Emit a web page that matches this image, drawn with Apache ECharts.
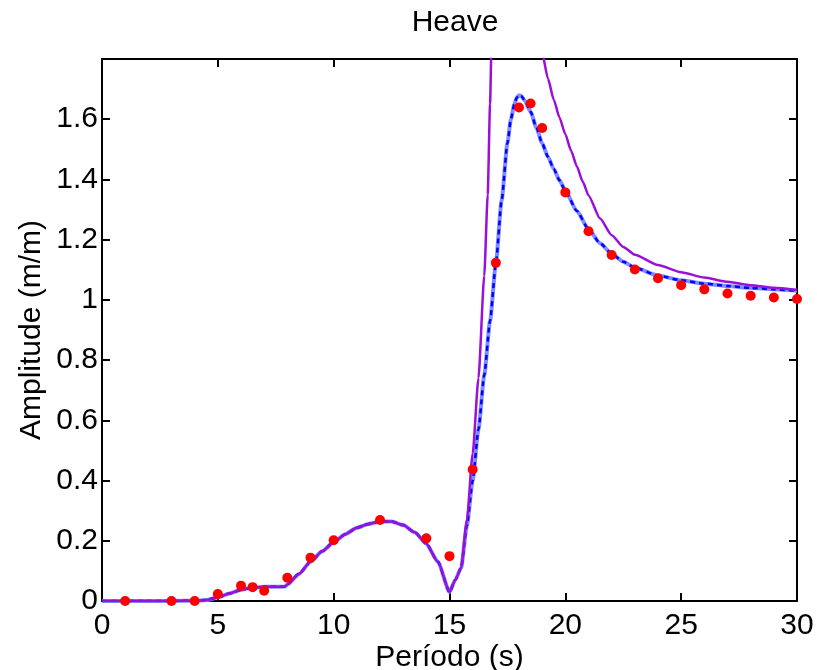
<!DOCTYPE html>
<html>
<head>
<meta charset="utf-8">
<script src="https://cdn.jsdelivr.net/npm/echarts@6/dist/echarts.min.js"></script>
<style>
html,body{margin:0;padding:0;background:#fff;}
#chart{width:817px;height:670px;}
</style>
</head>
<body>
<div id="chart"></div>
<script>
// Experimental points (red dots)
var expX = [1,3,4,5,6,6.5,7,8,9,10,12,14,15,16,17,18,18.5,19,20,21,22,23,24,25,26,27,28,29,30];
var expY = [0,0,0,0.023,0.051,0.046,0.034,0.077,0.144,0.202,0.269,0.208,0.149,0.437,1.123,1.639,1.652,1.571,1.357,1.228,1.149,1.101,1.072,1.049,1.035,1.021,1.014,1.008,1.003];

// Blue model curve
var blueX = [0,1,2,3,4,4.5,5,5.5,6,6.5,7,7.5,7.9,8,8.5,9,9.5,10,10.5,11,11.5,12,12.5,13,13.5,14,14.5,15,15.25,15.5,15.75,16,16.25,16.5,16.75,17,17.25,17.5,17.65,17.8,17.9,18,18.1,18.25,18.5,18.75,19,19.25,19.5,19.75,20,20.5,21,21.5,22,22.5,23,24,25,26,27,28,29,30];
var blueY = [0,0,0,0,0.001,0.003,0.012,0.025,0.037,0.045,0.047,0.047,0.048,0.055,0.09,0.13,0.165,0.195,0.222,0.243,0.256,0.264,0.264,0.252,0.228,0.19,0.13,0.03,0.07,0.11,0.25,0.40,0.57,0.75,0.93,1.12,1.33,1.52,1.60,1.65,1.671,1.68,1.677,1.662,1.625,1.572,1.52,1.475,1.435,1.397,1.362,1.295,1.235,1.188,1.153,1.127,1.107,1.081,1.065,1.054,1.046,1.04,1.035,1.03];

// Purple model curve
var purpleX = [0,1,2,3,4,4.5,5,5.5,6,6.5,7,7.5,7.9,8,8.5,9,9.5,10,10.5,11,11.5,12,12.5,13,13.5,14,14.5,15,15.25,15.5,15.75,16,16.25,16.5,16.65,16.75,16.85,17,17.5,18,18.5,18.8,19,19.25,19.5,19.75,20,20.25,20.5,20.75,21,21.5,22,22.5,23,24,25,26,27,28,29,30];
var purpleY = [0,0,0,0,0.001,0.003,0.012,0.025,0.037,0.045,0.047,0.047,0.048,0.055,0.09,0.13,0.165,0.195,0.222,0.243,0.256,0.264,0.264,0.252,0.228,0.19,0.13,0.03,0.07,0.11,0.27,0.49,0.74,1.08,1.35,1.65,2.0,2.6,4.0,3.6,2.5,2.0,1.82,1.735,1.665,1.605,1.55,1.495,1.443,1.393,1.347,1.27,1.215,1.176,1.15,1.116,1.092,1.074,1.06,1.049,1.04,1.033];

var xTicks = {min:0, max:30, interval:5};
var yTicks = {min:0, max:1.8, interval:0.2};

function pairs(xs, ys){ return xs.map(function(x,i){ return [x, ys[i]]; }); }

var FONT = 'Liberation Sans, Arial, Helvetica, sans-serif';
var FS = 30;
var axisLineStyle = {color:'#000', width:2};

var chart = echarts.init(document.getElementById('chart'));
chart.setOption({
  animation:false,
  backgroundColor:'#fff',
  title:{
    text:'Heave', left:450, top:3, textAlign:'center',
    textStyle:{fontFamily:FONT, fontSize:FS, fontWeight:'normal', color:'#000'}
  },
  grid:{left:102, right:20, top:59, bottom:69, containLabel:false, outerBoundsMode:'none'},
  xAxis:[{
    type:'value', min:xTicks.min, max:xTicks.max, interval:xTicks.interval,
    name:'Período (s)', nameLocation:'middle', nameGap:42, nameMoveOverlap:false,
    nameTextStyle:{fontFamily:FONT, fontSize:FS, color:'#000'},
    axisLine:{show:true, onZero:false, lineStyle:axisLineStyle},
    axisTick:{show:true, inside:true, length:8, lineStyle:axisLineStyle},
    axisLabel:{fontFamily:FONT, fontSize:FS, color:'#000', margin:10},
    splitLine:{show:false}
  },{
    type:'value', position:'top', min:xTicks.min, max:xTicks.max, interval:xTicks.interval,
    axisLine:{show:true, onZero:false, lineStyle:axisLineStyle},
    axisTick:{show:true, inside:true, length:8, lineStyle:axisLineStyle},
    axisLabel:{show:false}, splitLine:{show:false}
  }],
  yAxis:[{
    type:'value', min:yTicks.min, max:yTicks.max, interval:yTicks.interval,
    name:'Amplitude (m/m)', nameLocation:'middle', nameGap:55, nameMoveOverlap:false,
    nameTextStyle:{fontFamily:FONT, fontSize:FS, color:'#000'},
    axisLine:{show:true, onZero:false, lineStyle:axisLineStyle},
    axisTick:{show:true, inside:true, length:8, lineStyle:axisLineStyle},
    axisLabel:{fontFamily:FONT, fontSize:FS, color:'#000', margin:4,
      formatter:function(v){ return v >= 1.79 ? '' : String(Math.round(v*10)/10); }},
    splitLine:{show:false}
  },{
    type:'value', position:'right', min:yTicks.min, max:yTicks.max, interval:yTicks.interval,
    axisLine:{show:true, onZero:false, lineStyle:axisLineStyle},
    axisTick:{show:true, inside:true, length:8, lineStyle:axisLineStyle},
    axisLabel:{show:false}, splitLine:{show:false}
  }],
  series:[
    {type:'line', data:pairs(blueX, blueY), showSymbol:false, clip:true, z:2,
     smooth:0.2, smoothMonotone:'x',
     lineStyle:{color:'#7f8cff', width:4}},
    {type:'line', data:pairs(blueX, blueY), showSymbol:false, clip:true, z:3,
     smooth:0.2, smoothMonotone:'x',
     lineStyle:{color:'#0000ff', width:2.5, type:[5,4]}},
    {type:'line', data:pairs(purpleX, purpleY), showSymbol:false, clip:true, z:4,
     smooth:0.2, smoothMonotone:'x',
     lineStyle:{color:'#9a10d8', width:2.5}},
    {type:'scatter', data:pairs(expX, expY), symbol:'circle', symbolSize:10, z:5, clip:false,
     itemStyle:{color:'#ff0000', opacity:1}}
  ]
});
</script>
</body>
</html>
